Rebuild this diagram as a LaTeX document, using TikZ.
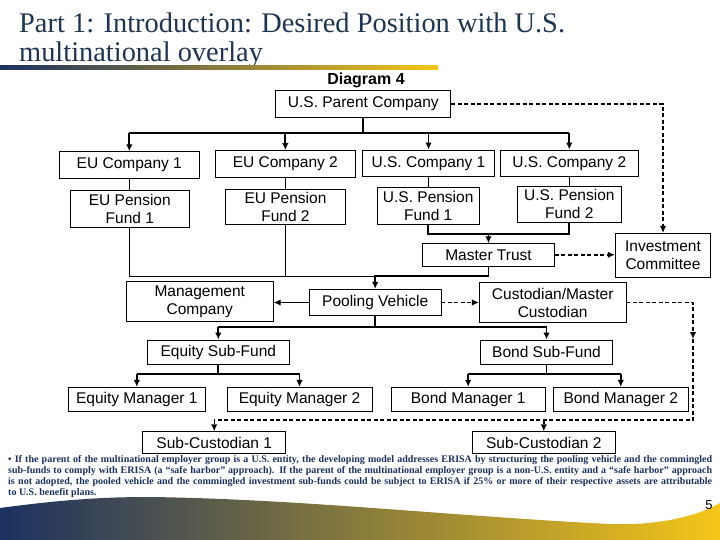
\documentclass[tikz,border=0pt]{standalone}
\usepackage{fontspec}
\setmainfont{Liberation Sans}
\newfontfamily\titlefont{Liberation Serif}
\usetikzlibrary{arrows.meta}

\definecolor{navy}{HTML}{1B3160}
\definecolor{gold}{HTML}{F5C518}
\definecolor{titleblue}{HTML}{1E3552}

\tikzset{
	box/.style={draw, line width=0.8pt, align=center, inner sep=1pt, font=\fontsize{15.5}{18}\selectfont},
	dims/.style 2 args={minimum width=#1pt, minimum height=#2pt},
	main/.style={line width=1.8pt},
	link/.style={line width=0.9pt},
	oversee/.style={line width=1.4pt, dash pattern=on 4pt off 2.5pt}
}

\begin{document}
\begin{tikzpicture}[x=1pt, y=-1pt, >={Latex[length=7pt,width=6.5pt]}]

	\useasboundingbox (0,0) rectangle (720,540);

	% heading and page decoration
	\node[anchor=north west, align=left, inner sep=0pt, text=titleblue, font=\titlefont\fontsize{28.4}{28.5}\selectfont] (title) at (19,13) {Part 1: Introduction: Desired Position with U.S.\\multinational overlay};
	\shade[left color=navy, right color=gold] (0,66) rectangle (438,69.5);
	\shade[left color=navy, right color=gold] (0,540) -- (0,508) .. controls (60,500) and (100,497) .. (150,497) .. controls (300,499) and (450,516) .. (610,524) .. controls (660,526) and (700,515) .. (720,503) -- (720,540) -- cycle;
	\node[font=\fontsize{13}{15}\selectfont] (page) at (709,505) {5};

	\node[font=\bfseries\fontsize{16}{18}\selectfont] (caption) at (366,80) {Diagram 4};

	\node[box, dims={175}{26.6}] (parent) at (363.3,104) {U.S. Parent Company};
	\node[box, dims={140}{26.6}] (eucoA) at (129.3,165) {EU Company 1};
	\node[box, dims={140}{27}] (eucoB) at (285.3,164) {EU Company 2};
	\node[box, dims={131.6}{26.7}] (uscoA) at (428.5,163.3) {U.S. Company 1};
	\node[box, dims={137.3}{26.7}] (uscoB) at (569.3,163.3) {U.S. Company 2};
	\node[box, dims={119}{37}] (eupfA) at (129.8,208.8) {EU Pension\\Fund 1};
	\node[box, dims={119.6}{35}] (eupfB) at (285.5,206.8) {EU Pension\\Fund 2};
	\node[box, dims={101.7}{37}] (uspfA) at (428.2,205.5) {U.S. Pension\\Fund 1};
	\node[box, dims={104}{36.7}] (uspfB) at (569.3,204.3) {U.S. Pension\\Fund 2};
	\node[box, dims={131.6}{22.3}] (trust) at (488.5,254.8) {Master Trust};
	\node[box, dims={95.4}{44}] (invest) at (663,255.3) {Investment\\Committee};
	\node[box, dims={147}{40}] (mgmt) at (199.8,301.3) {Management\\Company};
	\node[box, dims={131.7}{26.4}] (pool) at (375.2,302.5) {Pooling Vehicle};
	\node[box, dims={146.7}{39.6}] (cust) at (552.7,302.5) {Custodian/Master\\Custodian};
	\node[box, dims={142}{24}] (eqfund) at (218.3,352) {Equity Sub-Fund};
	\node[box, dims={131.6}{24}] (bdfund) at (546.5,352) {Bond Sub-Fund};
	\node[box, dims={137}{24.4}] (eqmgrA) at (136.8,399.5) {Equity Manager 1};
	\node[box, dims={145}{24.4}] (eqmgrB) at (299.5,399.5) {Equity Manager 2};
	\node[box, dims={154.3}{24.4}] (bdmgrA) at (468.2,399.5) {Bond Manager 1};
	\node[box, dims={135}{24.4}] (bdmgrB) at (620.8,399.5) {Bond Manager 2};
	\node[box, dims={143}{21.6}] (subcusA) at (214.2,442.5) {Sub-Custodian 1};
	\node[box, dims={143}{21.6}] (subcusB) at (543.8,442.5) {Sub-Custodian 2};

	\coordinate (busP) at (363.3,133.3);
	\coordinate (busU) at (488.5,234);
	\coordinate (busE) at (130,276);
	\coordinate (busF) at (375.2,327.3);
	\coordinate (busQ) at (218.3,374.3);
	\coordinate (busB) at (546.5,374.3);
	\coordinate (custdrop) at (693,339);
	\coordinate (custbus) at (693,420);

	% ownership
	\draw[main] (parent) -- (busP);
	\draw[main] (eucoA.north |- busP) -- (uscoB.north |- busP);
	\foreach \n in {eucoA,eucoB,uscoA,uscoB}
		\draw[main,->] (\n.north |- busP) -- (\n);
	\foreach \a/\b in {eucoA/eupfA,eucoB/eupfB,uscoA/uspfA,uscoB/uspfB}
		\draw[link] (\a.south) -- (\a.south |- \b.north);

	% plan assets
	\draw[link] (eupfA.south) -- (eupfA.south |- busE) -- (pool.north |- busE);
	\draw[link] (eupfB.south) -- (eupfB.south |- busE);
	\draw[main] (uspfA.south) -- (uspfA.south |- busU) -| (uspfB.south);
	\draw[main,->] (busU) -- (trust);
	\draw[main,->] (trust.south) -- (trust.south |- busE) -| (pool.north);
	\draw[main,->] (pool.west) -- (pool.west -| mgmt.east);

	% oversight
	\draw[oversee,->] (parent.east) -| (invest.north);
	\draw[oversee,->] (trust.east) -- (trust.east -| invest.west);
	\draw[oversee,->] (pool.east) -- (pool.east -| cust.west);
	\draw[oversee,->] (cust.east) -| (custdrop);
	\draw[oversee] (custdrop) -- (custbus) -- (subcusA.north |- custbus);
	\draw[oversee,->] (subcusA.north |- custbus) -- (subcusA);
	\draw[oversee,->] (subcusB.north |- custbus) -- (subcusB);

	% sub-funds and managers
	\draw[main] (pool) -- (busF);
	\draw[main] (eqfund.north |- busF) -- (bdfund.north |- busF);
	\draw[main,->] (eqfund.north |- busF) -- (eqfund);
	\draw[main,->] (bdfund.north |- busF) -- (bdfund);
	\draw[main] (eqfund) -- (busQ);
	\draw[main] (eqmgrA.north |- busQ) -- (eqmgrB.north |- busQ);
	\draw[main,->] (eqmgrA.north |- busQ) -- (eqmgrA);
	\draw[main,->] (eqmgrB.north |- busQ) -- (eqmgrB);
	\draw[main] (bdfund) -- (busB);
	\draw[main] (bdmgrA.north |- busB) -- (bdmgrB.north |- busB);
	\draw[main,->] (bdmgrA.north |- busB) -- (bdmgrA);
	\draw[main,->] (bdmgrB.north |- busB) -- (bdmgrB);

	\node[anchor=north west, text width=704pt, align=justify, inner sep=0pt, text=navy, font=\titlefont\bfseries\fontsize{10}{11}\selectfont] (note) at (8,455.5) {\textbullet\ If the parent of the multinational employer group is a U.S. entity, the developing model addresses ERISA by structuring the pooling vehicle and the commingled\linebreak sub-funds to comply with ERISA (a “safe harbor” approach). If the parent of the multinational employer group is a non-U.S. entity and a “safe harbor” approach\linebreak is not adopted, the pooled vehicle and the commingled investment sub-funds could be subject to ERISA if 25\% or more of their respective assets are attributable\linebreak to U.S. benefit plans.};

\end{tikzpicture}
\end{document}
